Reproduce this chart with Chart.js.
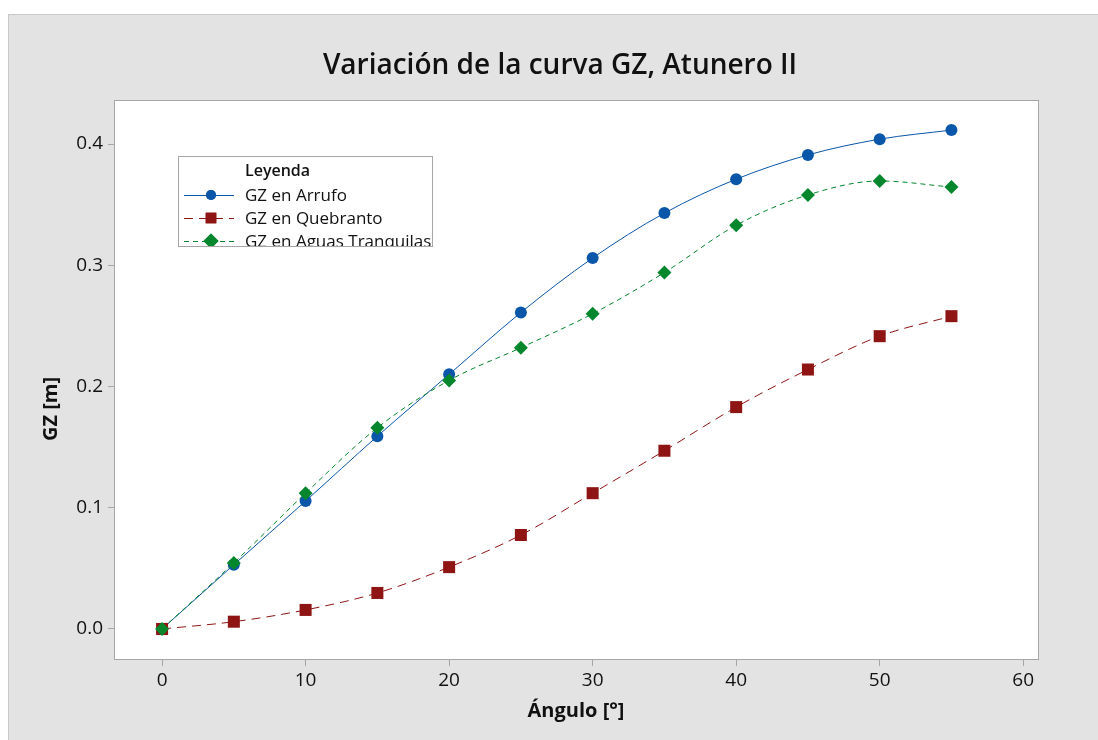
<!DOCTYPE html>
<html><head><meta charset="utf-8">
<script src="https://cdn.jsdelivr.net/npm/chart.js@4.4.1/dist/chart.umd.min.js"></script>
<style>
html,body{margin:0;padding:0;background:#fff;width:1098px;height:740px;overflow:hidden;}
#frame{position:absolute;left:8px;top:14px;width:1090px;height:726px;background:#e3e3e3;border-left:1px solid #c8c8c8;border-top:1px solid #c8c8c8;box-sizing:border-box;}
#c{position:absolute;left:1px;top:1px;}
</style></head>
<body>
<div id="frame"><canvas id="c" width="1089" height="725"></canvas></div>
<script>
const angles = [0,5,10,15,20,25,30,35,40,45,50,55];
const gzArrufo = [0,0.053,0.1055,0.159,0.210,0.261,0.306,0.343,0.371,0.391,0.404,0.4115];
const gzQuebranto = [0,0.006,0.0157,0.0297,0.051,0.0775,0.112,0.147,0.183,0.214,0.2415,0.258];
const gzAguas = [0,0.0545,0.112,0.166,0.205,0.232,0.260,0.294,0.333,0.358,0.3695,0.3645];
const seriesNames = ['GZ en Arrufo','GZ en Quebranto','GZ en Aguas Tranquilas'];
const title = 'Variación de la curva GZ, Atunero II';
const xTitle = 'Ángulo [°]';
const yTitle = 'GZ [m]';
const legendTitle = 'Leyenda';

const BLUE='#0a56a8', RED='#8f1515', GREEN='#04862c';
const FONT='"Open Sans", "Noto Sans", sans-serif';
const pts = arr => angles.map((a,i)=>({x:a,y:arr[i]}));

const styles = [
  {color:BLUE, dash:[], marker:'circle', r:6, lr:5},
  {color:RED, dash:[9,6], marker:'rect', r:8.5, lr:7.5},
  {color:GREEN, dash:[5,4], marker:'rectRot', r:7, lr:7.5}
];

const decor = {
  id:'decor',
  beforeDraw(chart){
    const {ctx, chartArea:a} = chart;
    ctx.save();
    ctx.fillStyle='#fff';
    ctx.fillRect(a.left, a.top, a.right-a.left, a.bottom-a.top);
    ctx.restore();
  },
  beforeDatasetsDraw(chart){
    const {ctx, chartArea:a} = chart;
    ctx.save();
    ctx.strokeStyle='#a6a6a6'; ctx.lineWidth=1;
    ctx.strokeRect(Math.round(a.left)+0.5, Math.round(a.top)+0.5, Math.round(a.right-a.left)-1, Math.round(a.bottom-a.top)-1);
    ctx.restore();
  },
  afterDraw(chart){
    const ctx = chart.ctx;
    ctx.save();
    ctx.fillStyle='#111';
    ctx.textAlign='center'; ctx.textBaseline='alphabetic';
    ctx.font='600 28px '+FONT;
    ctx.fillText(title, 550, 58);
    ctx.font='bold 20px '+FONT;
    ctx.textBaseline='middle';
    ctx.fillText(xTitle, 566, 695);
    ctx.translate(41, 393); ctx.rotate(-Math.PI/2);
    ctx.fillText(yTitle, 0, 0);
    ctx.restore();

    // legend
    const bx=168, by=140, bw=254, bh=90;
    ctx.save();
    ctx.fillStyle='#fff'; ctx.fillRect(bx,by,bw,bh);
    ctx.strokeStyle='#a6a6a6'; ctx.lineWidth=1;
    ctx.strokeRect(bx+0.5,by+0.5,bw,bh);
    ctx.beginPath(); ctx.rect(bx+1,by+1,bw-1,bh-1); ctx.clip();
    ctx.fillStyle='#111'; ctx.textAlign='left'; ctx.textBaseline='alphabetic';
    ctx.font='600 16px '+FONT;
    ctx.fillText(legendTitle, 235, 160);
    ctx.font='17px '+FONT;
    const rows=[185,208,231];
    rows.forEach((rb,i)=>{
      const s=styles[i];
      const ry = rb-6;
      ctx.strokeStyle=s.color; ctx.lineWidth=1; ctx.setLineDash(s.dash);
      ctx.beginPath(); ctx.moveTo(174,ry+0.5); ctx.lineTo(224,ry+0.5); ctx.stroke();
      ctx.setLineDash([]);
      ctx.fillStyle=s.color;
      Chart.helpers.drawPoint(ctx,{pointStyle:s.marker,radius:s.lr,rotation:0,borderWidth:0},201,ry);
      ctx.fill();
      ctx.fillStyle='#111';
      ctx.fillText(seriesNames[i], 235, rb);
    });
    ctx.restore();
  }
};

const mk = (i,arr,order) => ({
  label: seriesNames[i], data: pts(arr), order,
  borderColor: styles[i].color, backgroundColor: styles[i].color,
  borderWidth: 1, borderDash: styles[i].dash,
  pointStyle: styles[i].marker, pointRadius: styles[i].r, pointBorderWidth: 0,
  pointBackgroundColor: styles[i].color,
  cubicInterpolationMode: 'monotone', showLine: true, fill:false
});

new Chart(document.getElementById('c'), {
  type:'line',
  data:{ datasets:[ mk(0,gzArrufo,3), mk(1,gzQuebranto,2), mk(2,gzAguas,1) ] },
  options:{
    responsive:false, animation:false,
    layout:{padding:{top:84,right:60,left:0,bottom:0}},
    plugins:{legend:{display:false}, title:{display:false}, tooltip:{enabled:false}},
    scales:{
      x:{ type:'linear', min:-3.35, max:61.1,
        afterFit(s){ s.height=81; },
        grid:{drawOnChartArea:false, drawTicks:true, tickLength:6, color:'#a6a6a6'},
        border:{display:false},
        ticks:{stepSize:10, includeBounds:false, padding:3, color:'#111', font:{family:FONT,size:19}, maxRotation:0,
          callback:v=>String(v)} },
      y:{ type:'linear', min:-0.0256, max:0.4363,
        afterFit(s){ s.width=104; },
        grid:{drawOnChartArea:false, drawTicks:true, tickLength:6, color:'#a6a6a6'},
        border:{display:false},
        ticks:{stepSize:0.1, includeBounds:false, padding:5, color:'#111', font:{family:FONT,size:19},
          callback:v=>Number(v).toFixed(1)} }
    }
  },
  plugins:[decor]
});
</script>
</body></html>
